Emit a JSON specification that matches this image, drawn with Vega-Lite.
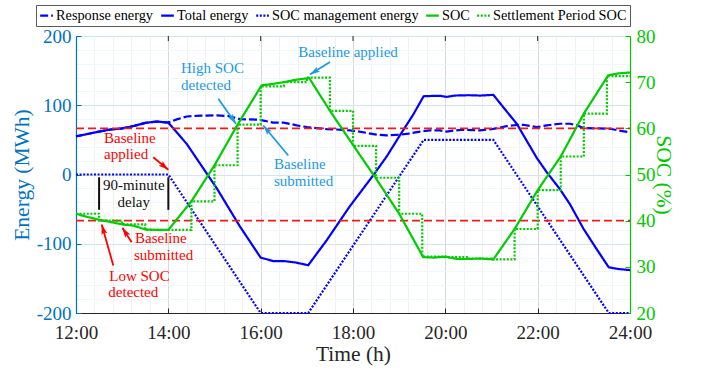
{
  "$schema": "https://vega.github.io/schema/vega-lite/v6.json",
  "width": 554,
  "height": 277,
  "autosize": {"type": "none"},
  "padding": {"left": 76, "top": 36, "right": 72, "bottom": 55},
  "background": "white",
  "config": {
    "font": "Liberation Serif",
    "style": {
      "guide-label": {"font": "Liberation Serif"},
      "guide-title": {"font": "Liberation Serif"}
    },
    "view": {"stroke": "#262626", "strokeWidth": 1},
    "axis": {
      "labelFont": "Liberation Serif",
      "titleFont": "Liberation Serif",
      "titleFontWeight": "normal",
      "labelFontSize": 19,
      "titleFontSize": 21.5,
      "labelOverlap": false,
      "labelFlush": false,
      "labelBound": false,
      "domainWidth": 1.2
    },
    "legend": {
      "labelFont": "Liberation Serif",
      "labelFontSize": 14.3,
      "labelColor": "#000000",
      "labelLimit": 400,
      "symbolType": "stroke",
      "symbolStrokeWidth": 2.2,
      "symbolSize": 160,
      "padding": 3,
      "columnPadding": 2,
      "labelOffset": 2,
      "rowPadding": 0,
      "strokeColor": "#5a5a5a",
      "fillColor": "white"
    }
  },
  "datasets": {
    "energy": [
      {"h": 12, "e": 55, "series": "Response energy"},
      {"h": 12.25, "e": 58.5, "series": "Response energy"},
      {"h": 12.5, "e": 62, "series": "Response energy"},
      {"h": 12.75, "e": 65, "series": "Response energy"},
      {"h": 13, "e": 66.5, "series": "Response energy"},
      {"h": 13.25, "e": 70, "series": "Response energy"},
      {"h": 13.5, "e": 74.5, "series": "Response energy"},
      {"h": 13.75, "e": 76.5, "series": "Response energy"},
      {"h": 14, "e": 75, "series": "Response energy"},
      {"h": 14.2, "e": 80, "series": "Response energy"},
      {"h": 14.4, "e": 83.8, "series": "Response energy"},
      {"h": 14.7, "e": 85, "series": "Response energy"},
      {"h": 15.05, "e": 85.3, "series": "Response energy"},
      {"h": 15.3, "e": 84.5, "series": "Response energy"},
      {"h": 15.55, "e": 80, "series": "Response energy"},
      {"h": 15.98, "e": 79, "series": "Response energy"},
      {"h": 16.27, "e": 75, "series": "Response energy"},
      {"h": 16.5, "e": 75, "series": "Response energy"},
      {"h": 16.78, "e": 71, "series": "Response energy"},
      {"h": 17, "e": 68.4, "series": "Response energy"},
      {"h": 17.21, "e": 66.9, "series": "Response energy"},
      {"h": 17.43, "e": 65.5, "series": "Response energy"},
      {"h": 17.65, "e": 65, "series": "Response energy"},
      {"h": 17.93, "e": 63.6, "series": "Response energy"},
      {"h": 18.08, "e": 62.6, "series": "Response energy"},
      {"h": 18.3, "e": 60, "series": "Response energy"},
      {"h": 18.51, "e": 57.5, "series": "Response energy"},
      {"h": 18.73, "e": 56.4, "series": "Response energy"},
      {"h": 19.02, "e": 57.5, "series": "Response energy"},
      {"h": 19.2, "e": 59, "series": "Response energy"},
      {"h": 19.45, "e": 62, "series": "Response energy"},
      {"h": 19.67, "e": 63.6, "series": "Response energy"},
      {"h": 19.88, "e": 63.6, "series": "Response energy"},
      {"h": 20.03, "e": 62, "series": "Response energy"},
      {"h": 20.2, "e": 63.5, "series": "Response energy"},
      {"h": 20.39, "e": 64.6, "series": "Response energy"},
      {"h": 20.6, "e": 64, "series": "Response energy"},
      {"h": 20.75, "e": 63.6, "series": "Response energy"},
      {"h": 21.04, "e": 66, "series": "Response energy"},
      {"h": 21.33, "e": 69.8, "series": "Response energy"},
      {"h": 21.55, "e": 71.5, "series": "Response energy"},
      {"h": 21.69, "e": 71.8, "series": "Response energy"},
      {"h": 21.85, "e": 70, "series": "Response energy"},
      {"h": 21.98, "e": 68.4, "series": "Response energy"},
      {"h": 22.2, "e": 71, "series": "Response energy"},
      {"h": 22.48, "e": 73.3, "series": "Response energy"},
      {"h": 22.7, "e": 73.3, "series": "Response energy"},
      {"h": 22.85, "e": 71, "series": "Response energy"},
      {"h": 22.99, "e": 67, "series": "Response energy"},
      {"h": 23.3, "e": 66.5, "series": "Response energy"},
      {"h": 23.57, "e": 66, "series": "Response energy"},
      {"h": 23.8, "e": 63, "series": "Response energy"},
      {"h": 24, "e": 61, "series": "Response energy"},

      {"h": 12, "e": 55, "series": "Total energy"},
      {"h": 12.25, "e": 58.5, "series": "Total energy"},
      {"h": 12.5, "e": 62, "series": "Total energy"},
      {"h": 12.75, "e": 65, "series": "Total energy"},
      {"h": 13, "e": 66.5, "series": "Total energy"},
      {"h": 13.25, "e": 70, "series": "Total energy"},
      {"h": 13.5, "e": 74.5, "series": "Total energy"},
      {"h": 13.75, "e": 76.5, "series": "Total energy"},
      {"h": 14, "e": 75, "series": "Total energy"},
      {"h": 14.4, "e": 44, "series": "Total energy"},
      {"h": 15.05, "e": -20, "series": "Total energy"},
      {"h": 15.55, "e": -75, "series": "Total energy"},
      {"h": 16, "e": -120, "series": "Total energy"},
      {"h": 16.27, "e": -125, "series": "Total energy"},
      {"h": 16.5, "e": -125, "series": "Total energy"},
      {"h": 16.75, "e": -127, "series": "Total energy"},
      {"h": 17.03, "e": -131, "series": "Total energy"},
      {"h": 17.43, "e": -95, "series": "Total energy"},
      {"h": 17.93, "e": -46, "series": "Total energy"},
      {"h": 18.44, "e": -1, "series": "Total energy"},
      {"h": 18.73, "e": 26, "series": "Total energy"},
      {"h": 19.02, "e": 57, "series": "Total energy"},
      {"h": 19.3, "e": 86, "series": "Total energy"},
      {"h": 19.53, "e": 113, "series": "Total energy"},
      {"h": 19.75, "e": 113.5, "series": "Total energy"},
      {"h": 19.9, "e": 113.5, "series": "Total energy"},
      {"h": 20.03, "e": 112, "series": "Total energy"},
      {"h": 20.2, "e": 114, "series": "Total energy"},
      {"h": 20.5, "e": 114.5, "series": "Total energy"},
      {"h": 20.75, "e": 114, "series": "Total energy"},
      {"h": 20.9, "e": 114.5, "series": "Total energy"},
      {"h": 21.04, "e": 115, "series": "Total energy"},
      {"h": 21.33, "e": 91, "series": "Total energy"},
      {"h": 21.55, "e": 73, "series": "Total energy"},
      {"h": 21.69, "e": 57, "series": "Total energy"},
      {"h": 21.98, "e": 24, "series": "Total energy"},
      {"h": 22.2, "e": 3, "series": "Total energy"},
      {"h": 22.48, "e": -21, "series": "Total energy"},
      {"h": 22.7, "e": -43, "series": "Total energy"},
      {"h": 22.99, "e": -78, "series": "Total energy"},
      {"h": 23.25, "e": -105, "series": "Total energy"},
      {"h": 23.54, "e": -134, "series": "Total energy"},
      {"h": 23.75, "e": -136.5, "series": "Total energy"},
      {"h": 24, "e": -138, "series": "Total energy"},

      {"h": 12, "e": 0, "series": "SOC management energy"},
      {"h": 14, "e": 0, "series": "SOC management energy"},
      {"h": 16, "e": -200, "series": "SOC management energy"},
      {"h": 17.03, "e": -200, "series": "SOC management energy"},
      {"h": 19.53, "e": 50, "series": "SOC management energy"},
      {"h": 21.04, "e": 50, "series": "SOC management energy"},
      {"h": 23.54, "e": -200, "series": "SOC management energy"},
      {"h": 24, "e": -200, "series": "SOC management energy"}
    ],
    "soc": [
      {"h": 12, "soc": 41.5, "series": "SOC"},
      {"h": 12.25, "soc": 40.8, "series": "SOC"},
      {"h": 12.5, "soc": 40.2, "series": "SOC"},
      {"h": 12.75, "soc": 39.7, "series": "SOC"},
      {"h": 13, "soc": 39.2, "series": "SOC"},
      {"h": 13.25, "soc": 38.9, "series": "SOC"},
      {"h": 13.5, "soc": 38.1, "series": "SOC"},
      {"h": 13.75, "soc": 38.0, "series": "SOC"},
      {"h": 14, "soc": 38.0, "series": "SOC"},
      {"h": 14.5, "soc": 44.2, "series": "SOC"},
      {"h": 15, "soc": 52.0, "series": "SOC"},
      {"h": 15.5, "soc": 60.8, "series": "SOC"},
      {"h": 16.02, "soc": 69.3, "series": "SOC"},
      {"h": 16.25, "soc": 69.6, "series": "SOC"},
      {"h": 16.5, "soc": 70.0, "series": "SOC"},
      {"h": 16.75, "soc": 70.5, "series": "SOC"},
      {"h": 17.05, "soc": 70.9, "series": "SOC"},
      {"h": 17.5, "soc": 63.8, "series": "SOC"},
      {"h": 18, "soc": 56.4, "series": "SOC"},
      {"h": 18.5, "soc": 49.1, "series": "SOC"},
      {"h": 19, "soc": 41.5, "series": "SOC"},
      {"h": 19.52, "soc": 32.1, "series": "SOC"},
      {"h": 19.75, "soc": 32.0, "series": "SOC"},
      {"h": 20, "soc": 32.2, "series": "SOC"},
      {"h": 20.25, "soc": 31.7, "series": "SOC"},
      {"h": 20.5, "soc": 31.7, "series": "SOC"},
      {"h": 20.75, "soc": 31.8, "series": "SOC"},
      {"h": 21.04, "soc": 31.6, "series": "SOC"},
      {"h": 21.5, "soc": 38.2, "series": "SOC"},
      {"h": 22, "soc": 46.6, "series": "SOC"},
      {"h": 22.5, "soc": 53.9, "series": "SOC"},
      {"h": 23, "soc": 63.2, "series": "SOC"},
      {"h": 23.53, "soc": 71.5, "series": "SOC"},
      {"h": 23.75, "soc": 71.9, "series": "SOC"},
      {"h": 24, "soc": 72.1, "series": "SOC"},

      {"h": 12, "soc": 41.5, "series": "Settlement Period SOC"},
      {"h": 12.5, "soc": 40.0, "series": "Settlement Period SOC"},
      {"h": 13, "soc": 39.2, "series": "Settlement Period SOC"},
      {"h": 13.5, "soc": 38.0, "series": "Settlement Period SOC"},
      {"h": 14, "soc": 38.0, "series": "Settlement Period SOC"},
      {"h": 14.5, "soc": 44.2, "series": "Settlement Period SOC"},
      {"h": 15, "soc": 52.0, "series": "Settlement Period SOC"},
      {"h": 15.5, "soc": 60.8, "series": "Settlement Period SOC"},
      {"h": 16, "soc": 69.1, "series": "Settlement Period SOC"},
      {"h": 16.5, "soc": 70.0, "series": "Settlement Period SOC"},
      {"h": 17, "soc": 71.0, "series": "Settlement Period SOC"},
      {"h": 17.5, "soc": 63.8, "series": "Settlement Period SOC"},
      {"h": 18, "soc": 56.2, "series": "Settlement Period SOC"},
      {"h": 18.5, "soc": 49.3, "series": "Settlement Period SOC"},
      {"h": 19, "soc": 41.5, "series": "Settlement Period SOC"},
      {"h": 19.5, "soc": 32.2, "series": "Settlement Period SOC"},
      {"h": 20, "soc": 32.1, "series": "Settlement Period SOC"},
      {"h": 20.5, "soc": 31.8, "series": "Settlement Period SOC"},
      {"h": 21, "soc": 31.6, "series": "Settlement Period SOC"},
      {"h": 21.5, "soc": 38.2, "series": "Settlement Period SOC"},
      {"h": 22, "soc": 46.6, "series": "Settlement Period SOC"},
      {"h": 22.5, "soc": 53.9, "series": "Settlement Period SOC"},
      {"h": 23, "soc": 63.2, "series": "Settlement Period SOC"},
      {"h": 23.5, "soc": 71.3, "series": "Settlement Period SOC"},
      {"h": 24, "soc": 71.3, "series": "Settlement Period SOC"}
    ],
    "limits": [
      {"h": 12, "h2": 24, "soc": 60},
      {"h": 12, "h2": 24, "soc": 40}
    ],
    "topTicks": [
      {"h": 14, "e": 200, "e2": 192.8},
      {"h": 16, "e": 200, "e2": 192.8},
      {"h": 18, "e": 200, "e2": 192.8},
      {"h": 20, "e": 200, "e2": 192.8},
      {"h": 22, "e": 200, "e2": 192.8}
    ],
    "notes": [
      {"h": 12.606, "e": 52.7, "t": "Baseline", "tone": "low"},
      {"h": 12.606, "e": 28.9, "t": "applied", "tone": "low"},
      {"h": 13.278, "e": -91.8, "t": "Baseline", "tone": "low"},
      {"h": 13.256, "e": -115.6, "t": "submitted", "tone": "low"},
      {"h": 12.721, "e": -146, "t": "Low SOC", "tone": "low"},
      {"h": 12.7, "e": -169, "t": "detected", "tone": "low"},
      {"h": 14.274, "e": 153.9, "t": "High SOC", "tone": "high"},
      {"h": 14.274, "e": 129.3, "t": "detected", "tone": "high"},
      {"h": 16.815, "e": 177, "t": "Baseline applied", "tone": "high"},
      {"h": 16.288, "e": 14.5, "t": "Baseline", "tone": "high"},
      {"h": 16.288, "e": -10.1, "t": "submitted", "tone": "high"}
    ],
    "delayText": [
      {"h": 13.25, "e": -14.5, "t": "90-minute"},
      {"h": 13.25, "e": -39, "t": "delay"}
    ],
    "delayBars": [
      {"h": 12.5, "e": -4, "e2": -51},
      {"h": 14, "e": -4, "e2": -51}
    ],
    "arrows": [
      {"h": 13.674, "e": 25, "h2": 13.999, "e2": 6.8, "tone": "low"},
      {"h": 13.206, "e": -97.8, "h2": 13.003, "e2": -77, "tone": "low"},
      {"h": 12.808, "e": -131.5, "h2": 12.557, "e2": -72.3, "tone": "low"},
      {"h": 15.082, "e": 109.4, "h2": 15.465, "e2": 73.3, "tone": "high"},
      {"h": 16.598, "e": 27.5, "h2": 16.057, "e2": 70.8, "tone": "high"},
      {"h": 17.501, "e": 162.3, "h2": 17.068, "e2": 144.5, "tone": "high"}
    ]
  },
  "encoding": {
    "x": {
      "field": "h",
      "type": "quantitative",
      "scale": {"domain": [12, 24], "nice": false, "zero": false},
      "axis": {
        "title": "Time (h)",
        "values": [12, 12.4, 12.8, 13.2, 13.6, 14, 14.4, 14.8, 15.2, 15.6, 16, 16.4, 16.8, 17.2, 17.6, 18, 18.4, 18.8, 19.2, 19.6, 20, 20.4, 20.8, 21.2, 21.6, 22, 22.4, 22.8, 23.2, 23.6, 24],
        "labelExpr": "datum.value % 2 == 0 ? datum.value + ':00' : ''",
        "grid": true,
        "gridColor": {"condition": {"test": "datum.value % 2 == 0", "value": "#d9d9d9"}, "value": "#f1f1f1"},
        "tickOpacity": {"condition": {"test": "datum.value % 2 == 0", "value": 1}, "value": 0},
        "tickSize": -5,
        "tickColor": "#262626",
        "domainColor": "#262626",
        "labelColor": "#262626",
        "titleColor": "#262626",
        "labelPadding": 15,
        "titlePadding": 1
      }
    }
  },
  "layer": [
    {
      "data": {"name": "energy"},
      "mark": {"type": "line", "strokeWidth": 2.2},
      "encoding": {
        "y": {
          "field": "e",
          "type": "quantitative",
          "scale": {"domain": [-200, 200], "nice": false, "zero": false},
          "axis": {
            "title": "Energy (MWh)",
            "values": [-200, -180, -160, -140, -120, -100, -80, -60, -40, -20, 0, 20, 40, 60, 80, 100, 120, 140, 160, 180, 200],
            "labelExpr": "datum.value % 100 == 0 ? '' + datum.value : ''",
            "grid": true,
            "gridColor": {"condition": {"test": "datum.value % 100 == 0", "value": "#d4e5f2"}, "value": "#f1f6fb"},
            "tickOpacity": {"condition": {"test": "datum.value % 100 == 0", "value": 1}, "value": 0},
            "tickSize": -5,
            "tickColor": "#0072BD",
            "domainColor": "#0072BD",
            "labelColor": "#0072BD",
            "titleColor": "#0072BD",
            "labelPadding": 10,
            "titlePadding": 3
          }
        },
        "color": {
          "field": "series",
          "type": "nominal",
          "scale": {
            "domain": ["Response energy", "Total energy", "SOC management energy", "SOC", "Settlement Period SOC"],
            "range": ["#0000ff", "#0000ff", "#0000ff", "#00cc00", "#00cc00"]
          },
          "legend": {"title": null, "orient": "none", "legendX": -40, "legendY": -31, "direction": "horizontal", "columns": 5, "labelFont": "Liberation Serif", "labelFontSize": 14.3}
        },
        "strokeDash": {
          "field": "series",
          "type": "nominal",
          "scale": {
            "domain": ["Response energy", "Total energy", "SOC management energy", "SOC", "Settlement Period SOC"],
            "range": [[8, 3], [1, 0], [2, 1.6], [1, 0], [2, 1.6]]
          },
          "legend": {"title": null, "orient": "none", "legendX": -40, "legendY": -31, "direction": "horizontal", "columns": 5, "labelFont": "Liberation Serif", "labelFontSize": 14.3}
        }
      }
    },
    {
      "layer": [
        {
          "data": {"name": "limits"},
          "mark": {"type": "rule", "color": "#f01a1a", "strokeWidth": 1.6, "strokeDash": [8, 4]},
          "encoding": {
            "x2": {"field": "h2"},
            "y": {"field": "soc", "type": "quantitative"}
          }
        },
        {
          "data": {"name": "soc"},
          "transform": [{"filter": "datum.series == 'Settlement Period SOC'"}],
          "mark": {"type": "line", "interpolate": "step-after", "strokeWidth": 2.2},
          "encoding": {
            "y": {"field": "soc", "type": "quantitative"},
            "color": {
              "field": "series",
              "type": "nominal",
              "scale": {
                "domain": ["Response energy", "Total energy", "SOC management energy", "SOC", "Settlement Period SOC"],
                "range": ["#0000ff", "#0000ff", "#0000ff", "#00cc00", "#00cc00"]
              },
              "legend": {"title": null, "orient": "none", "legendX": -40, "legendY": -31, "direction": "horizontal", "columns": 5, "labelFont": "Liberation Serif", "labelFontSize": 14.3}
            },
            "strokeDash": {
              "field": "series",
              "type": "nominal",
              "scale": {
                "domain": ["Response energy", "Total energy", "SOC management energy", "SOC", "Settlement Period SOC"],
                "range": [[8, 3], [1, 0], [2, 1.6], [1, 0], [2, 1.6]]
              },
              "legend": {"title": null, "orient": "none", "legendX": -40, "legendY": -31, "direction": "horizontal", "columns": 5, "labelFont": "Liberation Serif", "labelFontSize": 14.3}
            }
          }
        },
        {
          "data": {"name": "soc"},
          "transform": [{"filter": "datum.series == 'SOC'"}],
          "mark": {"type": "line", "strokeWidth": 2.2},
          "encoding": {
            "y": {
              "field": "soc",
              "type": "quantitative",
              "scale": {"domain": [20, 80], "nice": false, "zero": false},
              "axis": {
                "orient": "right",
                "title": "SOC (%)",
                "values": [20, 30, 40, 50, 60, 70, 80],
                "grid": false,
                "tickSize": -5,
                "tickColor": "#00c800",
                "domainColor": "#00c800",
                "labelColor": "#00c800",
                "titleColor": "#00c800",
                "labelPadding": 11,
                "titlePadding": -4
              }
            },
            "color": {
              "field": "series",
              "type": "nominal",
              "scale": {
                "domain": ["Response energy", "Total energy", "SOC management energy", "SOC", "Settlement Period SOC"],
                "range": ["#0000ff", "#0000ff", "#0000ff", "#00cc00", "#00cc00"]
              },
              "legend": {"title": null, "orient": "none", "legendX": -40, "legendY": -31, "direction": "horizontal", "columns": 5, "labelFont": "Liberation Serif", "labelFontSize": 14.3}
            },
            "strokeDash": {
              "field": "series",
              "type": "nominal",
              "scale": {
                "domain": ["Response energy", "Total energy", "SOC management energy", "SOC", "Settlement Period SOC"],
                "range": [[8, 3], [1, 0], [2, 1.6], [1, 0], [2, 1.6]]
              },
              "legend": {"title": null, "orient": "none", "legendX": -40, "legendY": -31, "direction": "horizontal", "columns": 5, "labelFont": "Liberation Serif", "labelFontSize": 14.3}
            }
          }
        }
      ]
    },
    {
      "encoding": {
        "y": {"field": "e", "type": "quantitative", "scale": {"domain": [-200, 200], "nice": false, "zero": false}, "axis": null}
      },
      "layer": [
        {
          "data": {"name": "topTicks"},
          "mark": {"type": "rule", "color": "#262626", "strokeWidth": 1},
          "encoding": {"y2": {"field": "e2"}}
        },
        {
          "data": {"name": "delayBars"},
          "mark": {"type": "rule", "color": "#111111", "strokeWidth": 2},
          "encoding": {"y2": {"field": "e2"}}
        },
        {
          "data": {"name": "delayText"},
          "mark": {"type": "text", "align": "center", "baseline": "middle", "fontSize": 15, "font": "Liberation Serif", "color": "#111111"},
          "encoding": {"text": {"field": "t"}}
        },
        {
          "data": {"name": "notes"},
          "mark": {"type": "text", "align": "left", "baseline": "middle", "fontSize": 15, "font": "Liberation Serif"},
          "encoding": {
            "text": {"field": "t"},
            "color": {"condition": {"test": "datum.tone == 'low'", "value": "#ff0000"}, "value": "#1a9ae8"}
          }
        },
        {
          "data": {"name": "arrows"},
          "mark": {"type": "rule", "strokeWidth": 1.8},
          "encoding": {
            "x2": {"field": "h2"},
            "y2": {"field": "e2"},
            "color": {"condition": {"test": "datum.tone == 'low'", "value": "#ff0000"}, "value": "#1a9ae8"}
          }
        },
        {
          "data": {"name": "arrows"},
          "transform": [
            {"calculate": "atan2((datum.h2 - datum.h) * 46.17, (datum.e2 - datum.e) * 0.692) * 180 / PI", "as": "ang"},
            {"calculate": "datum.h2", "as": "h"},
            {"calculate": "datum.e2", "as": "e"}
          ],
          "mark": {"type": "point", "shape": "M0,0L0.6,2L0,1.6L-0.6,2Z", "filled": true, "size": 100, "opacity": 1, "strokeWidth": 0},
          "encoding": {
            "angle": {"field": "ang", "type": "quantitative", "scale": null},
            "color": {"condition": {"test": "datum.tone == 'low'", "value": "#ff0000"}, "value": "#1a9ae8"}
          }
        }
      ]
    }
  ],
  "resolve": {"scale": {"y": "independent"}}
}
